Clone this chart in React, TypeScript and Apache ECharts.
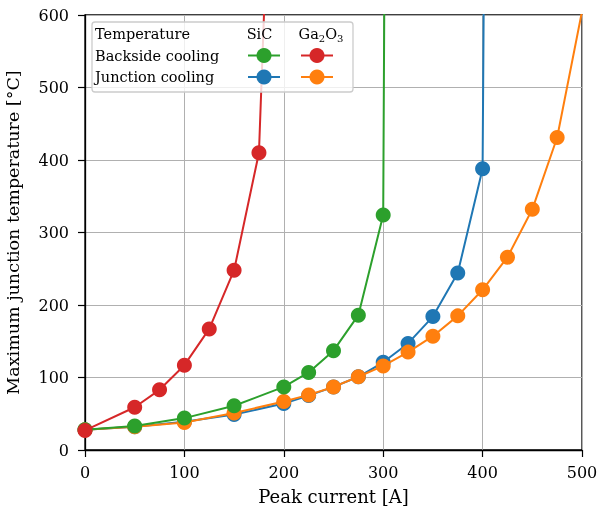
import React, { useEffect, useRef } from "react";
import * as echarts from "echarts";

const xTicks = [0, 100, 200, 300, 400, 500];
const yTicks = [0, 100, 200, 300, 400, 500, 600];

// SiC, backside cooling (green)
const sicBackX = [0, 50, 100, 150, 200, 225, 250, 275, 300, 325];
const sicBackY = [28, 33, 44, 61, 87, 107, 137, 186, 324, 7000];
// SiC, junction cooling (blue)
const sicJuncX = [0, 50, 100, 150, 200, 225, 250, 275, 300, 325, 350, 375, 400, 425];
const sicJuncY = [28, 32, 39, 49, 64, 75, 87, 101, 121, 147, 184, 244, 388, 5500];
// Ga2O3, backside cooling (red)
const gaBackX = [0, 50, 75, 100, 125, 150, 175, 200];
const gaBackY = [27, 59, 83, 117, 167, 248, 410, 1350];
// Ga2O3, junction cooling (orange)
const gaJuncX = [0, 50, 100, 150, 200, 225, 250, 275, 300, 325, 350, 375, 400, 425, 450, 475, 500];
const gaJuncY = [28, 32, 38, 51, 67, 76, 87, 101, 116, 135, 157, 185, 221, 266, 332, 431, 605];

const GREEN = "#2ca02c";
const BLUE = "#1f77b4";
const RED = "#d62728";
const ORANGE = "#ff7f0e";
const FONT = "DejaVu Serif";

const pairs = (xs: number[], ys: number[]) => xs.map((x, i) => [x, ys[i]]);

export default function App() {
  const ref = useRef<HTMLDivElement>(null);
  useEffect(() => {
    if (!ref.current) return;
    const chart = echarts.init(ref.current, null, { renderer: "svg" });
    const mk = (name: string, xs: number[], ys: number[], color: string, z: number) => ({
      name,
      type: "line",
      data: pairs(xs, ys),
      symbol: "circle",
      symbolSize: 15,
      clip: true,
      z,
      lineStyle: { color, width: 2 },
      itemStyle: { color },
    });
    const legendMarker = (cx: number, cy: number, color: string) => [
      { type: "line", shape: { x1: cx - 16, y1: cy, x2: cx + 16, y2: cy }, style: { stroke: color, lineWidth: 2 }, z: 101 },
      { type: "circle", shape: { cx, cy, r: 7.5 }, style: { fill: color }, z: 102 },
    ];
    const legendFont = 14.5;
    chart.setOption({
      animation: false,
      textStyle: { fontFamily: FONT },
      grid: {
        left: 85, right: 16, top: 15, bottom: 59,
        outerBoundsMode: "none",
        containLabel: false,
        show: true, borderColor: "#000", borderWidth: 1.3, backgroundColor: "transparent",
      },
      xAxis: {
        type: "value", min: xTicks[0], max: xTicks[xTicks.length - 1], interval: 100,
        name: "Peak current [A]", nameLocation: "middle", nameGap: 37,
        nameTextStyle: { fontFamily: FONT, fontSize: 18, color: "#000" },
        axisLine: { show: true, lineStyle: { color: "#000", width: 1.3 } },
        axisTick: { show: true, inside: false, length: 7, lineStyle: { color: "#000", width: 1.2 } },
        axisLabel: { fontFamily: FONT, fontSize: 16, color: "#000", margin: 14 },
        splitLine: { show: true, lineStyle: { color: "#b0b0b0", width: 1 } },
      },
      yAxis: {
        type: "value", min: yTicks[0], max: yTicks[yTicks.length - 1], interval: 100,
        name: "Maximum junction temperature [°C]", nameLocation: "middle", nameGap: 63,
        nameTextStyle: { fontFamily: FONT, fontSize: 17.5, color: "#000" },
        axisLine: { show: true, lineStyle: { color: "#000", width: 1.3 } },
        axisTick: { show: true, inside: false, length: 7, lineStyle: { color: "#000", width: 1.2 } },
        axisLabel: { fontFamily: FONT, fontSize: 16, color: "#000", margin: 16 },
        splitLine: { show: true, lineStyle: { color: "#b0b0b0", width: 1 } },
      },
      series: [
        mk("SiC junction", sicJuncX, sicJuncY, BLUE, 2),
        mk("Ga2O3 junction", gaJuncX, gaJuncY, ORANGE, 3),
        mk("SiC backside", sicBackX, sicBackY, GREEN, 4),
        mk("Ga2O3 backside", gaBackX, gaBackY, RED, 5),
      ],
      graphic: [
        {
          type: "rect", shape: { x: 92, y: 22, width: 261, height: 70, r: 3 },
          style: { fill: "rgba(255,255,255,0.8)", stroke: "#cccccc", lineWidth: 1.3 }, z: 100,
        },
        { type: "text", x: 95, y: 34, style: { text: "Temperature", fontFamily: FONT, fontSize: legendFont, fill: "#000", verticalAlign: "middle" }, z: 101 },
        { type: "text", x: 95, y: 55.5, style: { text: "Backside cooling", fontFamily: FONT, fontSize: legendFont, fill: "#000", verticalAlign: "middle" }, z: 101 },
        { type: "text", x: 95, y: 77, style: { text: "Junction cooling", fontFamily: FONT, fontSize: legendFont, fill: "#000", verticalAlign: "middle" }, z: 101 },
        { type: "text", x: 259.5, y: 34, style: { text: "SiC", fontFamily: FONT, fontSize: legendFont, fill: "#000", align: "center", verticalAlign: "middle" }, z: 101 },
        {
          type: "text", x: 321, y: 34,
          style: {
            text: "Ga{s|2}O{s|3}", fontFamily: FONT, fontSize: legendFont, fill: "#000", align: "center", verticalAlign: "middle",
            rich: { s: { fontFamily: FONT, fontSize: 10, fill: "#000", padding: [8, 0, 0, 0] } },
          },
          z: 101,
        },
        ...legendMarker(264, 55.5, GREEN),
        ...legendMarker(317, 55.5, RED),
        ...legendMarker(264, 77, BLUE),
        ...legendMarker(317, 77, ORANGE),
      ],
    });
    return () => chart.dispose();
  }, []);
  return <div ref={ref} style={{ position: "fixed", left: 0, top: 0, width: 598, height: 509 }} />;
}
